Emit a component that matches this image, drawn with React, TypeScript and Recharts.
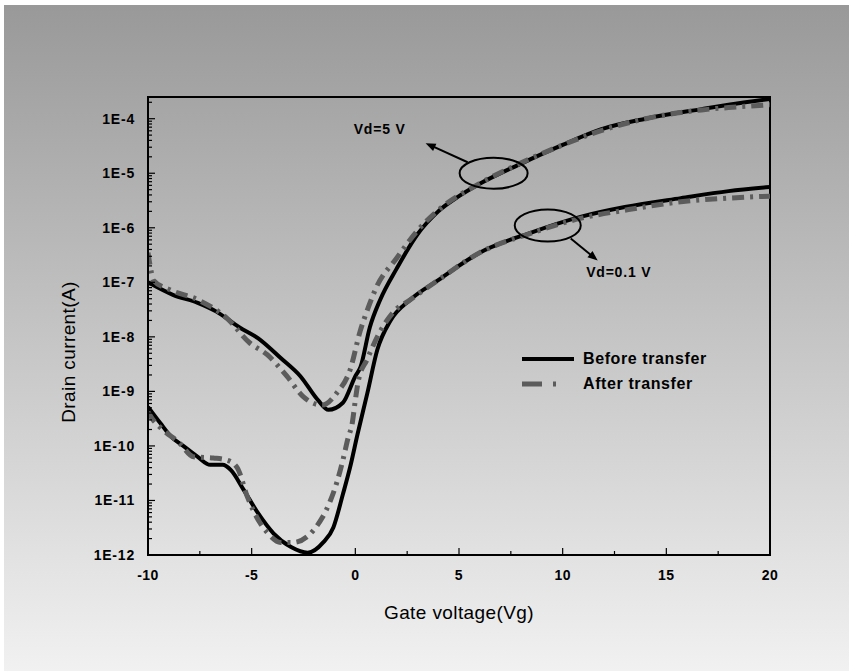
import { LineChart, Line, XAxis, YAxis, Legend, ReferenceArea, ReferenceDot } from 'recharts';

// gate voltage (V) and drain current (A)
const vBefore5 = [-10, -8.8, -7.6, -6.7, -5.6, -4.7, -3.6, -2.65, -1.8, -1.3, -0.6, 0, 0.25, 0.7, 1.2, 2, 3, 4, 5, 6, 8, 10, 11.8, 14, 16.7, 18, 20];
const iBefore5 = [1.0e-7, 5.9e-8, 4.2e-8, 2.9e-8, 1.5e-8, 9.5e-9, 4.1e-9, 1.9e-9, 6.9e-10, 4.6e-10, 6.2e-10, 1.9e-9, 2.8e-9, 1.5e-8, 4.8e-8, 1.8e-7, 7.6e-7, 2.0e-6, 3.8e-6, 6.4e-6, 1.5e-5, 3.3e-5, 6.3e-5, 1.0e-4, 1.5e-4, 1.8e-4, 2.3e-4];

const vAfter5 = [-10, -9.85, -9.75, -8.9, -7.6, -6.2, -5.1, -4.25, -3.3, -2.5, -1.6, -0.9, -0.25, 0.24, 0.63, 1, 2, 3, 4, 6, 8, 10, 12, 14, 16.7, 18, 20];
const iAfter5 = [3.5e-7, 1.6e-7, 1.1e-7, 7.2e-8, 4.8e-8, 2.2e-8, 7.8e-9, 4.7e-9, 1.9e-9, 7.9e-10, 5.6e-10, 9.3e-10, 2.5e-9, 1.3e-8, 3.5e-8, 7.9e-8, 2.8e-7, 8.9e-7, 2.1e-6, 6.5e-6, 1.55e-5, 3.3e-5, 6.3e-5, 1.0e-4, 1.45e-4, 1.6e-4, 1.8e-4];

const vBefore01 = [-10, -9.4, -8.9, -8.3, -7.6, -7.0, -6.4, -6.0, -5.4, -4.7, -3.95, -3.1, -2.3, -1.55, -1.06, -0.6, -0.25, 0.1, 0.58, 1.06, 1.7, 2.65, 4, 6, 8.45, 10.9, 13, 15.7, 18, 20];
const iBefore01 = [5.2e-10, 2.6e-10, 1.5e-10, 1.0e-10, 6.3e-11, 4.5e-11, 4.5e-11, 3.6e-11, 1.6e-11, 5.9e-12, 2.5e-12, 1.4e-12, 1.1e-12, 1.7e-12, 3.2e-12, 1.3e-11, 4.1e-11, 1.6e-10, 9.3e-10, 5.8e-9, 2.0e-8, 4.8e-8, 1.1e-7, 3.5e-7, 8.1e-7, 1.6e-6, 2.4e-6, 3.5e-6, 4.7e-6, 5.6e-6];

const vAfter01 = [-10, -9.75, -9.3, -8.5, -7.8, -6.85, -6.2, -5.7, -5.2, -4.6, -4.25, -3.6, -3.0, -2.0, -1.6, -1.2, -0.9, -0.6, -0.35, -0.15, 0, 0.15, 0.56, 1.06, 1.8, 2.65, 4, 6, 8.45, 10.9, 13, 15.7, 18, 20];
const iAfter01 = [4.2e-10, 3.0e-10, 2.0e-10, 1.15e-10, 6.3e-11, 6.0e-11, 5.5e-11, 4.0e-11, 1.15e-11, 3.9e-12, 2.6e-12, 1.7e-12, 1.7e-12, 2.9e-12, 4.8e-12, 1.0e-11, 2.1e-11, 5.5e-11, 1.4e-10, 2.6e-10, 6.9e-10, 1.6e-9, 3.8e-9, 1.0e-8, 2.75e-8, 4.8e-8, 1.1e-7, 3.5e-7, 7.9e-7, 1.5e-6, 2.1e-6, 3.0e-6, 3.5e-6, 3.8e-6];

const xTicks = [-10, -7.5, -5, -2.5, 0, 2.5, 5, 7.5, 10, 12.5, 15, 17.5, 20];
const decades = [-12, -11, -10, -9, -8, -7, -6, -5, -4];
const yTop = 2.5e-4;
const yTicks = decades.flatMap(d => [1, 2, 3, 4, 5, 6, 7, 8, 9].map(m => m * Math.pow(10, d))).filter(t => t <= yTop);

const callouts = [
  { v: 6.67, i: 1.0e-5, label: 'Vd=5 V', rx: 34, ry: 15.5, from: [-26, -11], to: [-68, -30], text: [-114, -44] },
  { v: 9.28, i: 1.1e-6, label: 'Vd=0.1 V', rx: 33, ry: 16, from: [23, 13], to: [50, 35], text: [71, 46] },
];

const font = '"Liberation Sans", Arial, sans-serif';
const toPoints = (v: number[], i: number[]) => v.map((x, k) => ({ v: x, i: i[k] }));

const XTick = ({ x, y, payload }: any) => {
  const major = payload.value % 5 === 0;
  return (
    <g>
      <line x1={x} x2={x} y1={y} y2={y - (major ? 7 : 4)} stroke="#000" strokeWidth={1.2} />
      {major && (
        <text x={x} y={y + 20} textAnchor="middle" dominantBaseline="central" fontFamily={font} fontWeight="bold" fontSize={14} letterSpacing={0.5} fill="#000">
          {payload.value}
        </text>
      )}
    </g>
  );
};

const YTick = ({ x, y, payload }: any) => {
  const e = Math.log10(payload.value);
  const major = Math.abs(e - Math.round(e)) < 1e-6;
  return (
    <g>
      <line x1={x} x2={x + (major ? 7 : 4)} y1={y} y2={y} stroke="#000" strokeWidth={1.2} />
      {major && (
        <text x={x - 13} y={y} textAnchor="end" dominantBaseline="central" fontFamily={font} fontWeight="bold" fontSize={14} letterSpacing={0.8} fill="#000">
          {`1E${Math.round(e)}`}
        </text>
      )}
    </g>
  );
};

const calloutShape = (c: typeof callouts[number]) => (p: any) => {
  const { cx, cy } = p;
  if (cx == null || cy == null) return <g />;
  const x1 = cx + c.from[0], y1 = cy + c.from[1];
  const x2 = cx + c.to[0], y2 = cy + c.to[1];
  const len = Math.hypot(x2 - x1, y2 - y1);
  const ux = (x2 - x1) / len, uy = (y2 - y1) / len;
  const head = `${x2},${y2} ${x2 - ux * 10 - uy * 4},${y2 - uy * 10 + ux * 4} ${x2 - ux * 10 + uy * 4},${y2 - uy * 10 - ux * 4}`;
  return (
    <g>
      <ellipse cx={cx} cy={cy} rx={c.rx} ry={c.ry} fill="none" stroke="#000" strokeWidth={2} />
      <line x1={x1} y1={y1} x2={x2 - ux * 6} y2={y2 - uy * 6} stroke="#000" strokeWidth={2} />
      <polygon points={head} fill="#000" />
      <text x={cx + c.text[0]} y={cy + c.text[1]} textAnchor="middle" dominantBaseline="central" fontFamily={font} fontWeight="bold" fontSize={14} letterSpacing={0.8} fill="#000">
        {c.label}
      </text>
    </g>
  );
};

const legendOrder = ['Before transfer', 'After transfer'];
const legendStyles: Record<string, { dash?: string; width: number; color: string }> = {
  'Before transfer': { width: 4, color: '#000' },
  'After transfer': { dash: '20 11 3 40', width: 5, color: '#5c5c5c' },
};

const renderLegend = (props: any) => {
  const entries = (props.payload || [])
    .filter((e: any) => legendStyles[e.value])
    .sort((a: any, b: any) => legendOrder.indexOf(a.value) - legendOrder.indexOf(b.value));
  return (
    <div style={{ fontFamily: font, fontWeight: 'bold', fontSize: 16, letterSpacing: 0.6 }}>
      {entries.map((e: any) => {
        const s = legendStyles[e.value];
        return (
          <div key={e.value} style={{ display: 'flex', alignItems: 'center', height: 25 }}>
            <svg width={61} height={10}>
              <line x1={0} x2={52} y1={5} y2={5} stroke={s.color} strokeWidth={s.width} strokeDasharray={s.dash} />
            </svg>
            <span style={{ color: '#000' }}>{e.value}</span>
          </div>
        );
      })}
    </div>
  );
};

export default function App() {
  return (
    <div style={{ position: 'absolute', left: 0, top: 0, width: 849, height: 671, background: '#fff', overflow: 'hidden' }}>
      <div style={{ position: 'absolute', left: 4, top: 5, right: 0, bottom: 0, background: 'linear-gradient(#999999, #f1f1f1)' }} />
      <div style={{ position: 'absolute', left: 0, top: 0 }}>
        <LineChart width={849} height={671} margin={{ top: 97, right: 79, bottom: 115, left: 147 }}>
          <XAxis
            dataKey="v"
            type="number"
            domain={[-10, 20]}
            ticks={xTicks}
            allowDataOverflow
            height={1}
            tickSize={0}
            tickMargin={0}
            tickLine={false}
            tick={<XTick />}
            axisLine={{ stroke: '#000', strokeWidth: 2 }}
            interval={0}
          />
          <YAxis
            dataKey="i"
            scale="log"
            domain={[1e-12, yTop]}
            ticks={yTicks}
            allowDataOverflow
            width={1}
            tickSize={0}
            tickMargin={0}
            tickLine={false}
            tick={<YTick />}
            axisLine={{ stroke: '#000', strokeWidth: 2 }}
            interval={0}
          />
          <ReferenceArea x1={-10} x2={20} y1={1e-12} y2={yTop} fill="none" stroke="#000" strokeWidth={2} />
          <Legend
            content={renderLegend}
            layout="vertical"
            align="center"
            verticalAlign="middle"
            wrapperStyle={{ left: 522, top: 346, width: 'auto' }}
          />
          <Line data={toPoints(vBefore5, iBefore5)} dataKey="i" name="Before transfer" type="monotone" stroke="#000" strokeWidth={4} dot={false} isAnimationActive={false} />
          <Line data={toPoints(vBefore01, iBefore01)} dataKey="i" name="Before transfer (0.1 V)" legendType="none" type="monotone" stroke="#000" strokeWidth={4} dot={false} isAnimationActive={false} />
          <Line data={toPoints(vAfter5, iAfter5)} dataKey="i" name="After transfer" type="monotone" stroke="#5c5c5c" strokeWidth={5} strokeDasharray="12 6 3 6" dot={false} isAnimationActive={false} />
          <Line data={toPoints(vAfter01, iAfter01)} dataKey="i" name="After transfer (0.1 V)" legendType="none" type="monotone" stroke="#5c5c5c" strokeWidth={5} strokeDasharray="12 6 3 6" dot={false} isAnimationActive={false} />
          {callouts.map(c => (
            <ReferenceDot key={c.label} x={c.v} y={c.i} shape={calloutShape(c)} />
          ))}
        </LineChart>
        <svg width={849} height={671} style={{ position: 'absolute', left: 0, top: 0, pointerEvents: 'none' }}>
          <text x={68} y={352} transform="rotate(-90 68 352)" textAnchor="middle" dominantBaseline="central" fontFamily={font} fontSize={19} letterSpacing={0.4} fill="#000">
            Drain current(A)
          </text>
          <text x={459} y={612} textAnchor="middle" dominantBaseline="central" fontFamily={font} fontSize={19} letterSpacing={0.4} fill="#000">
            Gate voltage(Vg)
          </text>
        </svg>
      </div>
    </div>
  );
}
